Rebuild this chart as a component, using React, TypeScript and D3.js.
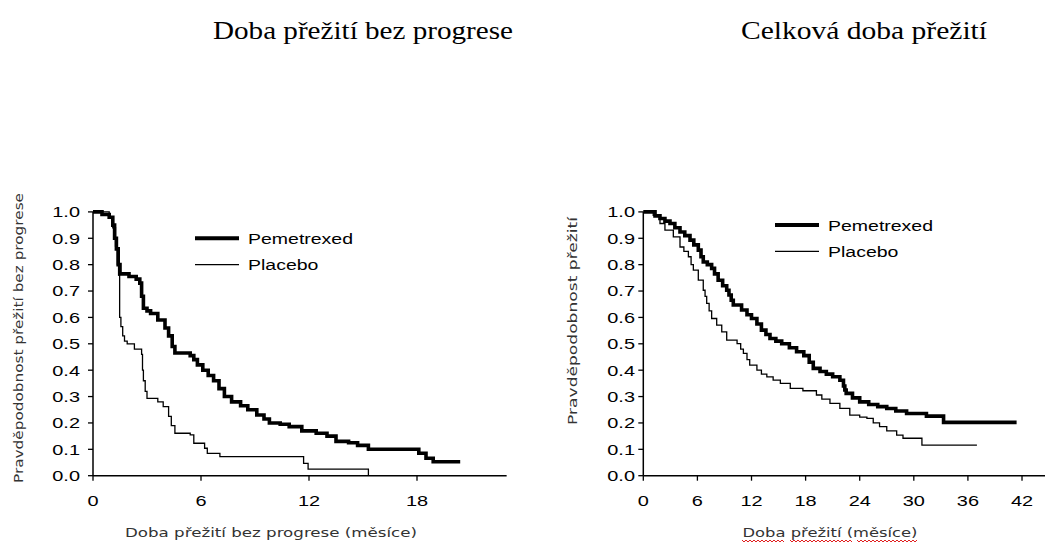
import * as d3 from 'd3';

// Kaplan-Meier readings (months, probability)
const pfsPemTime = [0, 0.5, 0.9, 1.1, 1.2, 1.3, 1.4, 1.5, 2.0, 2.4, 2.6, 2.7, 2.8, 3.0, 3.2, 3.6, 4.0, 4.2, 4.4, 4.55, 5.4, 5.6, 5.8, 6.1, 6.4, 6.7, 7.0, 7.3, 7.7, 8.2, 8.6, 9.1, 9.5, 9.8, 10.4, 10.9, 11.6, 12.4, 13.0, 13.5, 14.2, 14.7, 15.3, 18.1, 18.5, 18.9, 20.4];
const pfsPemProb = [1.0, 0.99, 0.98, 0.95, 0.9, 0.86, 0.8, 0.765, 0.755, 0.745, 0.73, 0.68, 0.635, 0.625, 0.615, 0.59, 0.56, 0.53, 0.49, 0.465, 0.455, 0.44, 0.42, 0.4, 0.38, 0.36, 0.33, 0.3, 0.28, 0.265, 0.25, 0.23, 0.215, 0.2, 0.195, 0.186, 0.17, 0.161, 0.15, 0.13, 0.125, 0.115, 0.1, 0.085, 0.066, 0.053, 0.053];

const pfsPlaTime = [0, 0.9, 1.1, 1.25, 1.35, 1.42, 1.48, 1.55, 1.65, 1.75, 1.9, 2.3, 2.7, 2.75, 2.8, 2.9, 3.0, 3.6, 3.9, 4.2, 4.35, 4.55, 5.4, 5.6, 6.2, 6.35, 7.05, 11.7, 11.95, 15.3];
const pfsPlaProb = [1.0, 0.98, 0.94, 0.87, 0.8, 0.76, 0.6, 0.565, 0.53, 0.51, 0.5, 0.48, 0.46, 0.4, 0.36, 0.32, 0.293, 0.28, 0.262, 0.225, 0.19, 0.161, 0.155, 0.123, 0.104, 0.085, 0.072, 0.047, 0.025, 0.0];

const osPemTime = [0, 1.3, 1.85, 2.4, 2.96, 3.5, 4.07, 4.6, 5.18, 5.6, 6.1, 6.4, 6.65, 7.1, 7.58, 7.9, 8.3, 8.8, 9.25, 9.5, 9.75, 9.98, 10.9, 11.5, 12.0, 12.6, 13.1, 13.6, 14.05, 14.7, 15.35, 16.2, 17.0, 17.8, 18.4, 18.85, 19.6, 20.3, 21.0, 21.8, 22.2, 22.35, 22.5, 23.2, 24.0, 25.0, 26.0, 27.0, 28.0, 29.2, 31.4, 33.3, 41.4];
const osPemProb = [1.0, 0.985, 0.975, 0.965, 0.956, 0.94, 0.924, 0.91, 0.893, 0.875, 0.855, 0.83, 0.81, 0.8, 0.786, 0.765, 0.741, 0.72, 0.703, 0.685, 0.665, 0.647, 0.628, 0.61, 0.596, 0.575, 0.552, 0.535, 0.52, 0.51, 0.5, 0.485, 0.47, 0.455, 0.43, 0.407, 0.395, 0.385, 0.375, 0.362, 0.34, 0.325, 0.312, 0.295, 0.28, 0.27, 0.262, 0.255, 0.245, 0.236, 0.226, 0.202, 0.202];

const osPlaTime = [0, 1.1, 1.85, 2.4, 3.33, 4.07, 4.5, 5.0, 5.3, 5.55, 6.1, 6.65, 6.85, 7.03, 7.3, 7.58, 8.14, 8.7, 9.25, 10.4, 10.8, 11.1, 11.5, 11.8, 12.6, 13.1, 13.7, 14.4, 15.2, 16.3, 17.7, 19.2, 19.8, 20.7, 21.8, 22.9, 24.0, 24.8, 25.5, 26.2, 27.0, 28.1, 28.8, 30.9, 37.0];
const osPlaProb = [1.0, 0.987, 0.956, 0.931, 0.905, 0.867, 0.85, 0.83, 0.8, 0.779, 0.741, 0.703, 0.68, 0.653, 0.625, 0.596, 0.571, 0.545, 0.514, 0.501, 0.48, 0.464, 0.44, 0.419, 0.4, 0.385, 0.375, 0.362, 0.35, 0.331, 0.322, 0.306, 0.29, 0.274, 0.255, 0.23, 0.222, 0.217, 0.2, 0.186, 0.17, 0.154, 0.142, 0.116, 0.116];

const yTicks = [0, 0.1, 0.2, 0.3, 0.4, 0.5, 0.6, 0.7, 0.8, 0.9, 1.0];
const pfsXTicks = [0, 6, 12, 18];
const osXTicks = [0, 6, 12, 18, 24, 30, 36, 42];
const seriesNames = ['Pemetrexed', 'Placebo'];

const SANS = 'Arial, "Liberation Sans", sans-serif';
const AXIS_FONT = 'Verdana, "DejaVu Sans", sans-serif';
const SERIF = '"Times New Roman", "Liberation Serif", serif';

function Wide({ x, y, anchor = 'start', children, size = 15, sx = 1.33 }: any) {
  return (
    <text transform={`translate(${x},${y}) scale(${sx},1)`} textAnchor={anchor}
      fontFamily={SANS} fontSize={size} fill="#000">{children}</text>
  );
}

function Panel({ left, xMax, pxPerMonth, xTicks, pem, pla, labelGap, legend, yTitle, xTitle }: any) {
  const x = d3.scaleLinear().domain([0, xMax]).range([left, left + xMax * pxPerMonth]);
  const y = d3.scaleLinear().domain([0, 1]).range([475.7, 211.9]);
  const line = d3.line<[number, number]>().x(d => x(d[0])).y(d => y(d[1])).curve(d3.curveStepAfter);
  const [x0, x1] = x.range();
  return (
    <g>
      <path d={line(pla) || ''} fill="none" stroke="#000" strokeWidth={1.3} />
      <path d={line(pem) || ''} fill="none" stroke="#000" strokeWidth={3.6} />
      <line x1={x0} x2={x0} y1={y(1)} y2={y(0)} stroke="#000" strokeWidth={1.5} />
      <line x1={x0} x2={x1} y1={y(0)} y2={y(0)} stroke="#000" strokeWidth={1.5} />
      {yTicks.map(t => (
        <g key={t}>
          <line x1={x0 - 5} x2={x0} y1={y(t)} y2={y(t)} stroke="#000" strokeWidth={1.3} />
          <Wide x={x0 - labelGap} y={y(t) + 5.4} anchor="end">{t.toFixed(1)}</Wide>
        </g>
      ))}
      {xTicks.map((t: number) => (
        <g key={t}>
          <line x1={x(t)} x2={x(t)} y1={y(0)} y2={y(0) + 5} stroke="#000" strokeWidth={1.3} />
          <Wide x={x(t)} y={506} anchor="middle">{t}</Wide>
        </g>
      ))}
      {seriesNames.map((name, i) => (
        <g key={name}>
          <line x1={legend.x} x2={legend.x + 44} y1={legend.y + i * 26.3} y2={legend.y + i * 26.3}
            stroke="#000" strokeWidth={i === 0 ? 4 : 1.3} />
          <Wide x={legend.x + 53} y={legend.y + i * 26.3 + 5.5} sx={1.3}>{name}</Wide>
        </g>
      ))}
      <text transform={`translate(${yTitle.x},${yTitle.y}) rotate(-90)`} textAnchor="middle"
        fontFamily={AXIS_FONT} fontSize={12} fill="#333" textLength={yTitle.len}
        lengthAdjust="spacingAndGlyphs">{yTitle.text}</text>
      <text x={xTitle.x} y={537} textAnchor="middle" fontFamily={AXIS_FONT} fontSize={12.5}
        fill="#333" textLength={xTitle.len} lengthAdjust="spacingAndGlyphs">{xTitle.text}</text>
    </g>
  );
}

function squiggle(a: number, b: number, yy: number) {
  let d = `M${a},${yy}`;
  for (let px = a + 2, k = 1; px <= b; px += 2, k++) d += `L${px},${yy + (k % 2 ? 2 : 0)}`;
  return d;
}

export default function App() {
  const zip = (t: number[], p: number[]) => t.map((v, i) => [v, p[i]] as [number, number]);
  return (
    <svg width={1045} height={547} style={{ position: 'absolute', left: 0, top: 0, background: '#fff' }}>
      <text x={363} y={39} textAnchor="middle" fontFamily={SERIF}
        fontSize={25} textLength={300} lengthAdjust="spacingAndGlyphs">Doba přežití bez progrese</text>
      <text x={864} y={39} textAnchor="middle" fontFamily={SERIF}
        fontSize={25} textLength={246} lengthAdjust="spacingAndGlyphs">Celková doba přežití</text>
      <Panel left={93} xMax={22.98} pxPerMonth={18} xTicks={pfsXTicks} labelGap={13}
        pem={zip(pfsPemTime, pfsPemProb)} pla={zip(pfsPlaTime, pfsPlaProb)}
        legend={{ x: 195, y: 238.3 }}
        yTitle={{ x: 23, y: 338, len: 290, text: 'Pravděpodobnost přežití bez progrese' }}
        xTitle={{ x: 271, len: 292, text: 'Doba přežití bez progrese (měsíce)' }} />
      <Panel left={643.3} xMax={44.6} pxPerMonth={9.017} xTicks={osXTicks} labelGap={8.3}
        pem={zip(osPemTime, osPemProb)} pla={zip(osPlaTime, osPlaProb)}
        legend={{ x: 775, y: 225 }}
        yTitle={{ x: 577, y: 321, len: 208, text: 'Pravděpodobnost přežití' }}
        xTitle={{ x: 830, len: 175, text: 'Doba přežití (měsíce)' }} />
      <path d={squiggle(742, 785, 540) + squiggle(790, 853, 540) + squiggle(857, 917, 540)}
        fill="none" stroke="#e02020" strokeWidth={1} />
    </svg>
  );
}
